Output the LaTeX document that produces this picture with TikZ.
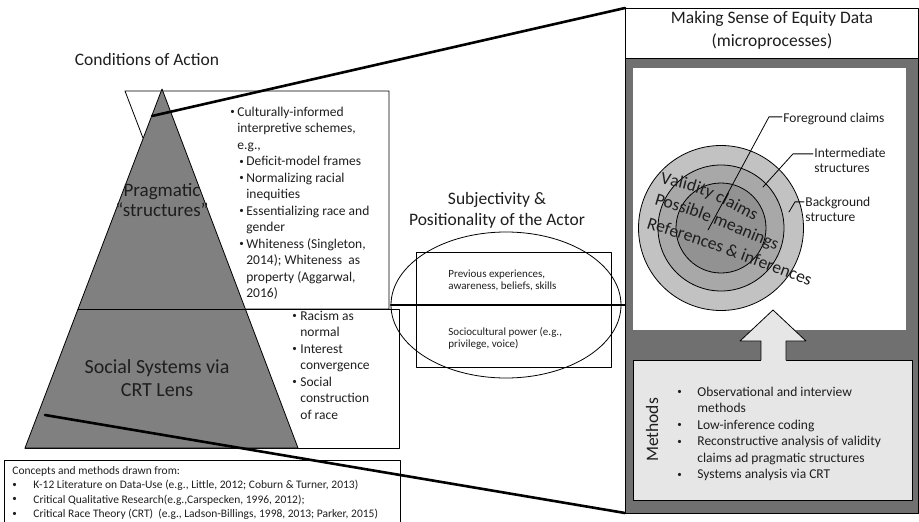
\documentclass[tikz,border=0pt]{standalone}
\usepackage{fontspec}
\setmainfont{Carlito}
\usetikzlibrary{decorations.text}
\definecolor{trigray}{HTML}{808080}
\definecolor{framegray}{HTML}{707070}
\definecolor{methfill}{HTML}{E6E6E6}
\definecolor{ringout}{HTML}{C2C2C2}
\definecolor{ringmid}{HTML}{A8A8A8}
\definecolor{ringin}{HTML}{929292}
\definecolor{inktext}{HTML}{1E1E1E}
\newcommand{\bx}[1]{\makebox[#1][l]{\raisebox{1.6pt}{\fontsize{9}{9}\selectfont\textbullet}}}

\begin{document}
\begin{tikzpicture}[x=1pt, y=-1pt, line width=0.8pt, line join=round, line cap=round,
  txt/.style={inner sep=0pt, text=inktext, execute at begin node=\strut},
  listtxt/.style={txt, align=left, anchor=north west, font=\fontsize{13.5}{16.5}\selectfont},
  labtxt/.style={listtxt, font=\fontsize{13.5}{14.5}\selectfont},
  smalltxt/.style={txt, align=left, anchor=north west, font=\fontsize{11}{12}\selectfont},
  bigtxt/.style={txt, align=center, anchor=north},
  thickline/.style={line width=2.6pt},
  curvetxt/.style={decorate, decoration={text along path, text color=inktext,
    text={|\fontsize{17.5}{18}\selectfont|#1}}}]
  \useasboundingbox (0,0) rectangle (919,522);

  \node[txt, anchor=base, font=\fontsize{17.5}{21}\selectfont] (condTitle) at (147,65) {Conditions of Action};

  \draw (143,138) -- (125,91) -- (389,91) -- (389,309) -- (246,309);
  \draw (246,309) -- (399,309) -- (399,448) -- (25,448);
  \coordinate (apex) at (162,89);
  \coordinate (baseL) at (25,448);
  \coordinate (baseR) at (298,448);
  \draw[fill=trigray] (apex) -- (baseL) -- (baseR) -- cycle;
  \draw (78,309) -- (246,309);

  \node[bigtxt, font=\fontsize{19}{20}\selectfont] (pragText) at (162,183) {Pragmatic\\“structures”};
  \node[bigtxt, font=\fontsize{20}{23}\selectfont] (socialText) at (157,358.9) {Social Systems via\\CRT Lens};

  \node[listtxt] (pragList) at (230,106.45) {\bx{7pt}Culturally-informed\\
    \hspace*{7pt}interpretive schemes,\\
    \hspace*{7pt}e.g.,\\
    \hspace*{9pt}\bx{7pt}Deficit-model frames\\
    \hspace*{9pt}\bx{7pt}Normalizing racial\\
    \hspace*{16pt}inequities\\
    \hspace*{9pt}\bx{7pt}Essentializing race and\\
    \hspace*{16pt}gender\\
    \hspace*{9pt}\bx{7pt}Whiteness (Singleton,\\
    \hspace*{16pt}2014); Whiteness~ as\\
    \hspace*{16pt}property (Aggarwal,\\
    \hspace*{16pt}2016)};
  \node[listtxt] (crtList) at (292,310.45) {\bx{8pt}Racism as\\
    \hspace*{8pt}normal\\
    \bx{8pt}Interest\\
    \hspace*{8pt}convergence\\
    \bx{8pt}Social\\
    \hspace*{8pt}construction\\
    \hspace*{8pt}of race};

  \draw (4,522) -- (4,460) -- (400,460) -- (400,522);
  \node[txt, align=left, anchor=north west, font=\fontsize{11.5}{14.5}\selectfont] (conceptList) at (12,465.85)
    {Concepts and methods drawn from:\\
    \bx{21pt}K-12 Literature on Data-Use (e.g., Little, 2012; Coburn \& Turner, 2013)\\
    \bx{21pt}Critical Qualitative Research(e.g.,Carspecken, 1996, 2012);\\
    \bx{21pt}Critical Race Theory (CRT)~ (e.g., Ladson-Billings, 1998, 2013; Parker, 2015)};

  \node[bigtxt, font=\fontsize{17.5}{21}\selectfont] (subjTitle) at (497,192.3) {Subjectivity \&\\Positionality of the Actor};
  \draw (416,252) rectangle (611,367);
  \draw (506,305) ellipse [x radius=115, y radius=73];
  \node[smalltxt] (prevText) at (448,269.6) {Previous experiences,\\awareness, beliefs, skills};
  \node[smalltxt] (socioText) at (448,326.6) {Sociocultural power (e.g.,\\privilege, voice)};

  \draw[fill=white] (625,8) rectangle (918,58);
  \draw[fill=framegray] (625,58) rectangle (918,513);
  \fill[white] (633,68) rectangle (906,330);
  \node[bigtxt, font=\fontsize{17.5}{23}\selectfont] (makingTitle) at (772,10.9) {Making Sense of Equity Data\\(microprocesses)};

  \coordinate (zoomA) at (152,116);
  \coordinate (zoomB) at (45,415);
  \coordinate (ellW) at (391,305);
  \coordinate (boxNW) at (625,8);
  \coordinate (boxW) at (625,305);
  \coordinate (boxSW) at (625,513);
  \draw[thickline] (zoomA) -- (boxNW);
  \draw[thickline] (zoomB) -- (boxSW);
  \draw[thickline] (ellW) -- (boxW);

  \draw[fill=ringout] (721,228) circle [radius=82.5];
  \draw[fill=ringmid] (721,228) circle [radius=63];
  \draw[fill=ringin] (721,228) circle [radius=45];
  \path[curvetxt={Validity claims}] (660,184) .. controls (700,192) .. (772,230);
  \path[curvetxt={Possible meanings}] (654,204) .. controls (700,218) .. (790,256);
  \path[curvetxt={References {\&} inferences}] (646,228) .. controls (715,250) .. (825,292);

  \node[labtxt] (fgLabel) at (783,111.85) {Foreground claims};
  \node[labtxt] (intLabel) at (814,147.85) {Intermediate\\structures};
  \node[labtxt] (bgLabel) at (805,196.85) {Background\\structure};
  \coordinate (fgEnd) at (708,230);
  \coordinate (intEnd) at (763,187);
  \coordinate (bgEnd) at (789,212);
  \draw (fgEnd) -- ([xshift=-14pt,yshift=-5pt]fgLabel.north west) -- ([xshift=-1pt,yshift=-5pt]fgLabel.north west);
  \draw (intEnd) -- ([xshift=-21pt,yshift=-6pt]intLabel.north west) -- ([xshift=-1pt,yshift=-6pt]intLabel.north west);
  \draw (bgEnd) -- ([xshift=-10pt,yshift=-5pt]bgLabel.north west) -- ([xshift=-1pt,yshift=-5pt]bgLabel.north west);

  \draw[fill=methfill] (633,360) rectangle (912,500);
  \fill[methfill] (761,361) -- (761,341) -- (740,341) -- (773,310) -- (806,341) -- (786,341) -- (786,361) -- cycle;
  \draw (761,360) -- (761,341) -- (740,341) -- (773,310) -- (806,341) -- (786,341) -- (786,360);
  \node[inner sep=0pt, text=inktext, rotate=90, font=\fontsize{17.5}{20}\selectfont] (methodsLabel) at (652,430) {Methods};
  \node[listtxt] (methodsList) at (677,386.45) {\bx{20pt}Observational and interview\\
    \hspace*{20pt}methods\\
    \bx{20pt}Low-inference coding\\
    \bx{20pt}Reconstructive analysis of validity\\
    \hspace*{20pt}claims ad pragmatic structures\\
    \bx{20pt}Systems analysis via CRT};
\end{tikzpicture}
\end{document}
